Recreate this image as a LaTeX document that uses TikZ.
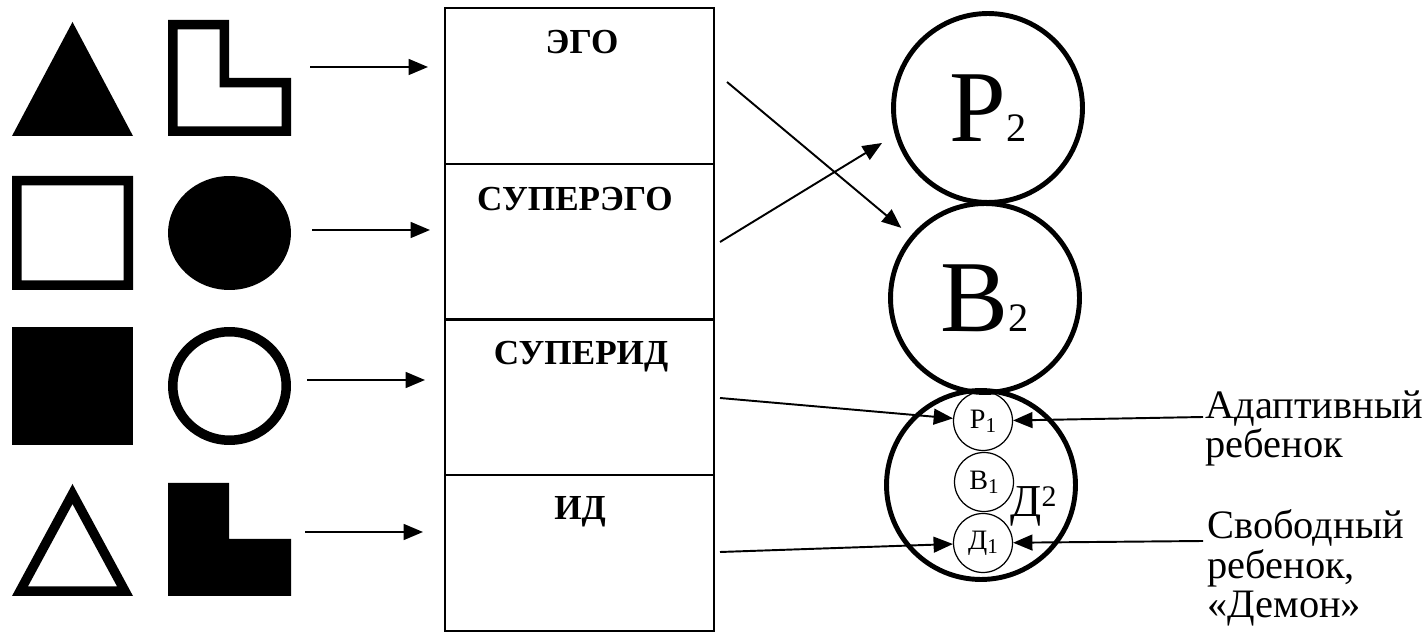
\documentclass[tikz,border=0pt]{standalone}
\usepackage{fontspec}
\setmainfont{Liberation Serif}
\usetikzlibrary{arrows.meta}

\begin{document}
\begin{tikzpicture}
      [x = 0.02cm, y = -0.02cm,
      link/.style={-{Triangle[length = 11pt, width = 9pt]}, line width = 1.1pt},
      part/.style= {
         draw,
         rectangle,
         line width = 1.1pt,
         minimum width = 5.38cm,
         minimum height = 3.115cm,
         inner sep = 0pt,
         outer sep = 0pt
      },
      head/.style= {
         font = \fontsize{20}{20}\selectfont\bfseries,
         anchor = base,
         inner sep = 0pt
      },
      big/.style= {
         draw,
         circle,
         line width = 2.8pt,
         minimum size = 3.78cm,
         inner sep = 0pt
      },
      small/.style= {
         draw,
         circle,
         line width = 0.7pt,
         minimum size = 1.18cm,
         inner sep = 0pt,
         font = \fontsize{16}{16}\selectfont
      },
      note/.style= {
         font = \fontsize{23}{22.5}\selectfont,
         align = left,
         anchor = base west,
         inner sep = 0pt
      }]

      \useasboundingbox (0, 0) rectangle (1427, 641);

      % figures on the left
      \fill (12, 136) -- (133, 136) -- (72.5, 22) -- cycle;
      \fill[even odd rule] (168, 20) -- (229, 20) -- (229, 78) -- (291, 78) -- (291, 136) -- (168, 136) -- cycle
         (177.5, 29.5) -- (219.5, 29.5) -- (219.5, 87.5) -- (281.5, 87.5) -- (281.5, 126.5) -- (177.5, 126.5) -- cycle;
      \fill[even odd rule] (12, 176) rectangle (133, 290) (21.5, 185.5) rectangle (123.5, 280.5);
      \fill (229.5, 233) ellipse [x radius = 1.23cm, y radius = 1.14cm];
      \fill (12, 327) rectangle (133, 445);
      \fill[even odd rule] (229.5, 386) ellipse [x radius = 1.23cm, y radius = 1.18cm]
         (229.5, 386) ellipse [x radius = 1.04cm, y radius = 0.99cm];
      \fill[even odd rule] (12, 596) -- (133, 596) -- (72.5, 484) -- cycle
         (27.9, 586.5) -- (117.1, 586.5) -- (72.5, 504) -- cycle;
      \fill (168, 483) -- (229, 483) -- (229, 539) -- (291, 539) -- (291, 596) -- (168, 596) -- cycle;

      \coordinate (row1) at (310, 67);  \coordinate (row1 end) at (428, 67);
      \coordinate (row2) at (312, 230); \coordinate (row2 end) at (430, 230);
      \coordinate (row3) at (307, 380); \coordinate (row3 end) at (425, 380);
      \coordinate (row4) at (305, 532); \coordinate (row4 end) at (423, 532);
      \draw[link] (row1) -- (row1 end);
      \draw[link] (row2) -- (row2 end);
      \draw[link] (row3) -- (row3 end);
      \draw[link] (row4) -- (row4 end);

      % the column
      \node[part] (ego) at (579.5, 85.9) {};
      \node[part] (superego) at (579.5, 241.6) {};
      \node[part] (superid) at (579.5, 397.4) {};
      \node[part] (id) at (579.5, 553.1) {};
      \node[head] (ego text) at (582, 54) {ЭГО};
      \node[head] (superego text) at (575, 211) {СУПЕРЭГО};
      \node[head] (superid text) at (581, 365) {СУПЕРИД};
      \node[head] (id text) at (580, 520) {ИД};

      % the circles
      \node[big] (p2) at (988, 108) {\fontsize{58}{58}\selectfont Р\fontsize{23}{23}\selectfont 2};
      \node[big] (b2) at (985, 298) {\fontsize{58}{58}\selectfont В\fontsize{23}{23}\selectfont 2};
      \node[big] (child) at (981, 485) {};
      \node[small] (p1) at (983, 421) {Р\raisebox{-2.5pt}{\fontsize{12}{12}\selectfont 1}};
      \node[small] (b1) at (984, 482) {В\raisebox{-2.5pt}{\fontsize{12}{12}\selectfont 1}};
      \node[small] (d1) at (983, 543) {Д\raisebox{-2.5pt}{\fontsize{12}{12}\selectfont 1}};
      \node[anchor = base west, inner sep = 0pt] (d2) at (1010, 517)
         {\fontsize{26}{26}\selectfont Д\raisebox{6pt}{\fontsize{17}{17}\selectfont 2}};

      \coordinate (ego out) at (727, 82);
      \coordinate (superego out) at (720, 242);
      \coordinate (superego in) at (882, 143);
      \coordinate (superid out) at (720, 398);
      \coordinate (id out) at (720, 552);
      \draw[link, shorten >= 7pt] (ego out) -- (b2);
      \draw[link] (superego out) -- (superego in);
      \draw[link] (superid out) -- (p1);
      \draw[link] (id out) -- (d1);

      % notes on the right (anchored at the last line)
      \node[note] (adapt) at (1205, 458) {Адаптивный\\ребенок};
      \node[note] (free) at (1207, 618) {Свободный\\ребенок,\\«Демон»};
      \coordinate (adapt in) at (1203, 417);
      \coordinate (free in) at (1203, 541);
      \draw[link] (adapt in) -- (p1);
      \draw[link] (free in) -- (d1);

   \end{tikzpicture}
\end{document}
